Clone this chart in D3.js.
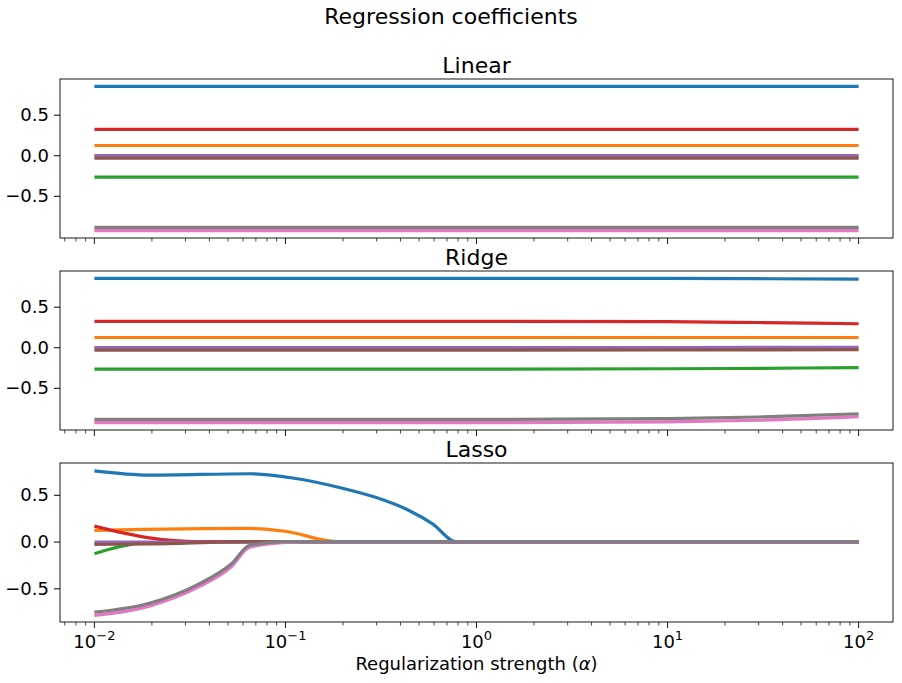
<!DOCTYPE html>
<html><head><meta charset="utf-8">
<script src="https://cdn.jsdelivr.net/npm/d3@7"></script>
<style>body{margin:0;background:#fff}text{font-family:"DejaVu Sans",sans-serif;fill:#000}</style>
</head><body><svg id="c" width="902" height="683"></svg>
<script>
const colors = ["#1f77b4","#ff7f0e","#2ca02c","#d62728","#9467bd","#8c564b","#e377c2","#7f7f7f"];
// flat coefficients for Linear (same order as colors)
const linearCoef = [0.85, 0.12, -0.27, 0.32, -0.004, -0.035, -0.93, -0.89];
// Ridge: values over alpha
const ridgeAlpha = [0.01, 1, 10, 30, 100];
const ridgeCoef = [
  [0.85, 0.85, 0.848, 0.845, 0.84],
  [0.12, 0.12, 0.12, 0.12, 0.12],
  [-0.27, -0.27, -0.265, -0.26, -0.25],
  [0.32, 0.32, 0.315, 0.305, 0.29],
  [-0.004, -0.004, -0.003, -0.002, 0.0],
  [-0.035, -0.035, -0.034, -0.033, -0.03],
  [-0.93, -0.93, -0.92, -0.9, -0.855],
  [-0.89, -0.89, -0.88, -0.86, -0.82]
];
// Lasso paths: [alpha, coef] pairs
const lassoPaths = [
  [[0.01,0.755],[0.0194,0.71],[0.065,0.725],[0.109,0.68],[0.199,0.57],[0.299,0.47],[0.446,0.33],[0.589,0.19],[0.78,0],[100,0]],
  [[0.01,0.12],[0.065,0.14],[0.1,0.11],[0.185,0],[100,0]],
  [[0.01,-0.13],[0.0172,-0.02],[0.035,0],[100,0]],
  [[0.01,0.165],[0.0194,0.04],[0.035,0],[100,0]],
  [[0.01,-0.005],[100,-0.005]],
  [[0.01,-0.03],[0.0194,-0.025],[0.065,0],[100,0]],
  [[0.01,-0.79],[0.0194,-0.69],[0.0355,-0.48],[0.052,-0.27],[0.065,-0.06],[0.1,-0.01],[0.13,0],[100,0]],
  [[0.01,-0.755],[0.0194,-0.66],[0.0355,-0.45],[0.052,-0.24],[0.065,-0.04],[0.1,0],[100,0]]
];
const titles = ["Linear","Ridge","Lasso"];
const yDomains = [[-1.02,0.94],[-1.02,0.94],[-0.86,0.84]];
const yTicks = [-0.5, 0, 0.5];
const xTickPowers = [-2,-1,0,1,2];

const svg = d3.select("#c");
const L = 60, R = 893;
const x = d3.scaleLog().domain([Math.pow(10,-2.18), Math.pow(10,2.18)]).range([L, R]);
const tops = [79, 271, 463], H = 159;

svg.append("text").attr("x",451).attr("y",24).attr("text-anchor","middle").style("font-size","22px").text("Regression coefficients");

tops.forEach((top, p) => {
  const y = d3.scaleLinear().domain(yDomains[p]).range([top+H, top]);
  const g = svg.append("g");
  let series;
  if (p === 0) series = linearCoef.map(v => [[0.01,v],[100,v]]);
  else if (p === 1) series = ridgeCoef.map(vs => ridgeAlpha.map((a,i) => [a, vs[i]]));
  else series = lassoPaths;
  const clipId = "clip"+p;
  svg.append("clipPath").attr("id",clipId).append("rect").attr("x",L).attr("y",top).attr("width",R-L).attr("height",H);
  const lg = g.append("g").attr("clip-path",`url(#${clipId})`);
  series.forEach((s, i) => {
    lg.append("path").attr("d", d3.line().curve(d3.curveMonotoneX).x(d=>x(d[0])).y(d=>y(d[1]))(s))
      .attr("fill","none").attr("stroke",colors[i]).attr("stroke-width",3.2);
  });
  g.append("rect").attr("x",L).attr("y",top).attr("width",R-L).attr("height",H).attr("fill","none").attr("stroke","#000").attr("stroke-width",0.9);
  const ya = g.append("g").attr("transform",`translate(${L},0)`)
    .call(d3.axisLeft(y).tickValues(yTicks).tickSize(6).tickFormat(d => d===0?"0.0":(d<0?"\u22120.5":"0.5")));
  ya.select(".domain").remove();
  ya.selectAll("text").style("font-size","18px").attr("dx","-2");
  const minors = [];
  for (let e=-3;e<=2;e++) for (let k=2;k<=9;k++){const v=k*Math.pow(10,e); if (v>x.domain()[0]&&v<x.domain()[1]) minors.push(v);}
  const xa = g.append("g").attr("transform",`translate(0,${top+H})`);
  xa.selectAll(".mn").data(minors).join("line").attr("x1",d=>x(d)).attr("x2",d=>x(d)).attr("y1",0).attr("y2",3.5).attr("stroke","#000").attr("stroke-width",0.7);
  xa.selectAll(".mj").data(xTickPowers).join("line").attr("x1",d=>x(Math.pow(10,d))).attr("x2",d=>x(Math.pow(10,d))).attr("y1",0).attr("y2",6).attr("stroke","#000").attr("stroke-width",0.9);
  if (p === 2) {
    const t = xa.selectAll(".lb").data(xTickPowers).join("text").attr("x",d=>x(Math.pow(10,d))).attr("y",26).attr("text-anchor","middle").style("font-size","18px");
    t.append("tspan").text("10");
    t.append("tspan").attr("dy",-8).style("font-size","13px").text(d => d<0?"\u2212"+(-d):d);
  }
  svg.append("text").attr("x",(L+R)/2).attr("y",top-6).attr("text-anchor","middle").style("font-size","22px").text(titles[p]);
});
const xl = svg.append("text").attr("x",(L+R)/2).attr("y",670).attr("text-anchor","middle").style("font-size","18px");
xl.append("tspan").text("Regularization strength (");
xl.append("tspan").style("font-style","italic").text("\u03b1");
xl.append("tspan").text(")");
</script></body></html>
